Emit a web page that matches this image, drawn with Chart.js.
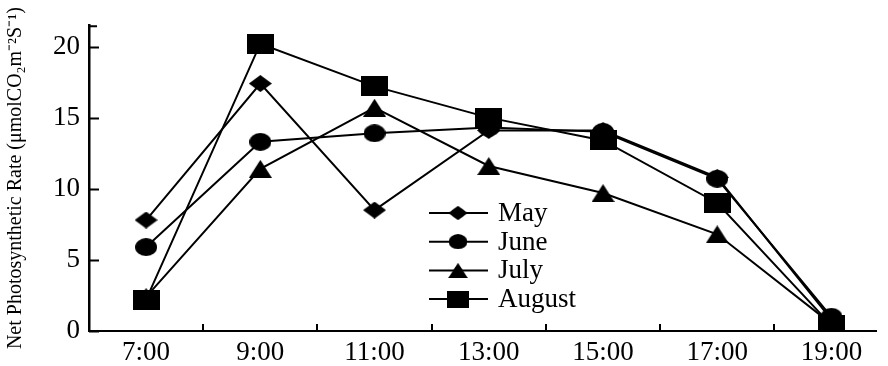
<!DOCTYPE html>
<html><head><meta charset="utf-8">
<script src="https://cdn.jsdelivr.net/npm/chart.js@4"></script>
<style>html,body{margin:0;padding:0;background:#fff}#wrap{width:888px;height:366px;position:relative}</style>
</head><body><div id="wrap"><canvas id="c" width="888" height="366"></canvas></div>
<script>
const categories = ['7:00','9:00','11:00','13:00','15:00','17:00','19:00'];
const hours = [7, 9, 11, 13, 15, 17, 19];
const may = [7.8, 17.4, 8.5, 14.1, 14.1, 10.8, 0.8];
const june = [5.9, 13.3, 13.9, 14.3, 14.0, 10.7, 1.0];
const july = [2.4, 11.4, 15.7, 11.6, 9.7, 6.8, 0.5];
const august = [2.2, 20.2, 17.2, 15.0, 13.4, 9.0, 0.4];
const seriesNames = ['May', 'June', 'July', 'August'];
const yTicks = [0, 5, 10, 15, 20];

const INK = '#000';
function marker(type, w, h) {
  const c = document.createElement('canvas');
  c.width = w; c.height = h;
  const g = c.getContext('2d');
  g.fillStyle = INK;
  g.beginPath();
  if (type === 'diamond') {
    g.moveTo(w / 2, 0); g.lineTo(w, h / 2); g.lineTo(w / 2, h); g.lineTo(0, h / 2);
  } else if (type === 'circle') {
    g.ellipse(w / 2, h / 2, w / 2, h / 2, 0, 0, Math.PI * 2);
  } else if (type === 'triangle') {
    g.moveTo(w / 2, 0); g.lineTo(w, h); g.lineTo(0, h);
  } else {
    g.rect(0, 0, w, h);
  }
  g.closePath();
  g.fill();
  return c;
}
const markers = [
  marker('diamond', 23, 17),
  marker('circle', 22, 18),
  marker('triangle', 23, 18),
  marker('square', 27, 20)
];

const seriesValues = [may, june, july, august];
const datasets = seriesValues.map((vals, i) => ({
  label: seriesNames[i],
  data: vals.map((v, k) => ({ x: hours[k], y: v })),
  borderColor: INK,
  backgroundColor: INK,
  borderWidth: 2,
  pointStyle: markers[i],
  pointRadius: 10,
  tension: 0,
  order: 4 - i
}));

const font = { family: '"Liberation Serif", "Times New Roman", serif', size: 27 };

const inwardTicks = {
  id: 'inwardTicks',
  afterDraw(chart) {
    const { ctx, chartArea: a, scales: { x, y } } = chart;
    ctx.save();
    ctx.strokeStyle = INK;
    ctx.lineWidth = 2;
    ctx.beginPath();
    yTicks.forEach(v => {
      const py = Math.round(y.getPixelForValue(v)) + 0.5;
      ctx.moveTo(a.left, py); ctx.lineTo(a.left + 10, py);
    });
    ctx.moveTo(a.left, a.top + 1); ctx.lineTo(a.left + 8, a.top + 1);
    for (let k = 0; k < hours.length - 1; k++) {
      const px = Math.round(x.getPixelForValue((hours[k] + hours[k + 1]) / 2));
      ctx.moveTo(px, a.bottom); ctx.lineTo(px, a.bottom - 7);
    }
    ctx.stroke();
    ctx.restore();
  }
};

const boxLegend = {
  id: 'boxLegend',
  afterDraw(chart) {
    const { ctx } = chart;
    const x0 = 429, x1 = 488, mx = 458, tx = 498, y0 = 213, dy = 28.7;
    ctx.save();
    ctx.strokeStyle = INK; ctx.fillStyle = INK; ctx.lineWidth = 2;
    ctx.font = `${font.size}px ${font.family}`;
    ctx.textBaseline = 'middle'; ctx.textAlign = 'left';
    chart.data.datasets.forEach((ds, i) => {
      const yy = y0 + i * dy;
      ctx.beginPath(); ctx.moveTo(x0, yy); ctx.lineTo(x1, yy); ctx.stroke();
      const m = markers[i], s = 0.85;
      ctx.drawImage(m, mx - m.width * s / 2, yy - m.height * s / 2, m.width * s, m.height * s);
      ctx.fillText(ds.label, tx, yy + 1);
    });
    ctx.restore();
  }
};

new Chart(document.getElementById('c'), {
  type: 'line',
  data: { datasets },
  options: {
    responsive: false,
    animation: false,
    devicePixelRatio: 1,
    layout: { padding: { top: 22, right: 0, left: 0, bottom: 0 } },
    plugins: { legend: { display: false }, tooltip: { enabled: false } },
    scales: {
      x: {
        type: 'linear',
        min: 6,
        max: 19.78,
        afterBuildTicks: s => { s.ticks = hours.map(v => ({ value: v })); },
        afterFit: s => { s.height = 35; },
        grid: { display: false, drawTicks: false },
        border: { display: true, color: INK, width: 2 },
        ticks: {
          color: '#000', font, padding: 6, maxRotation: 0, autoSkip: false,
          callback: v => categories[hours.indexOf(v)] ?? ''
        }
      },
      y: {
        min: 0,
        max: 21.5,
        afterBuildTicks: s => { s.ticks = yTicks.map(v => ({ value: v })); },
        afterFit: s => { s.width = 89; },
        grid: { display: false, drawTicks: false },
        border: { display: true, color: INK, width: 2.5 },
        ticks: { color: '#000', font, padding: 9, callback: v => String(v) },
        title: {
          display: true,
          text: 'Net Photosynthetic Rate (μmolCO₂m⁻²S⁻¹)',
          color: '#000',
          font: { family: font.family, size: 20 },
          padding: { top: 4, bottom: 0 }
        }
      }
    }
  },
  plugins: [inwardTicks, boxLegend]
});
</script></body></html>
